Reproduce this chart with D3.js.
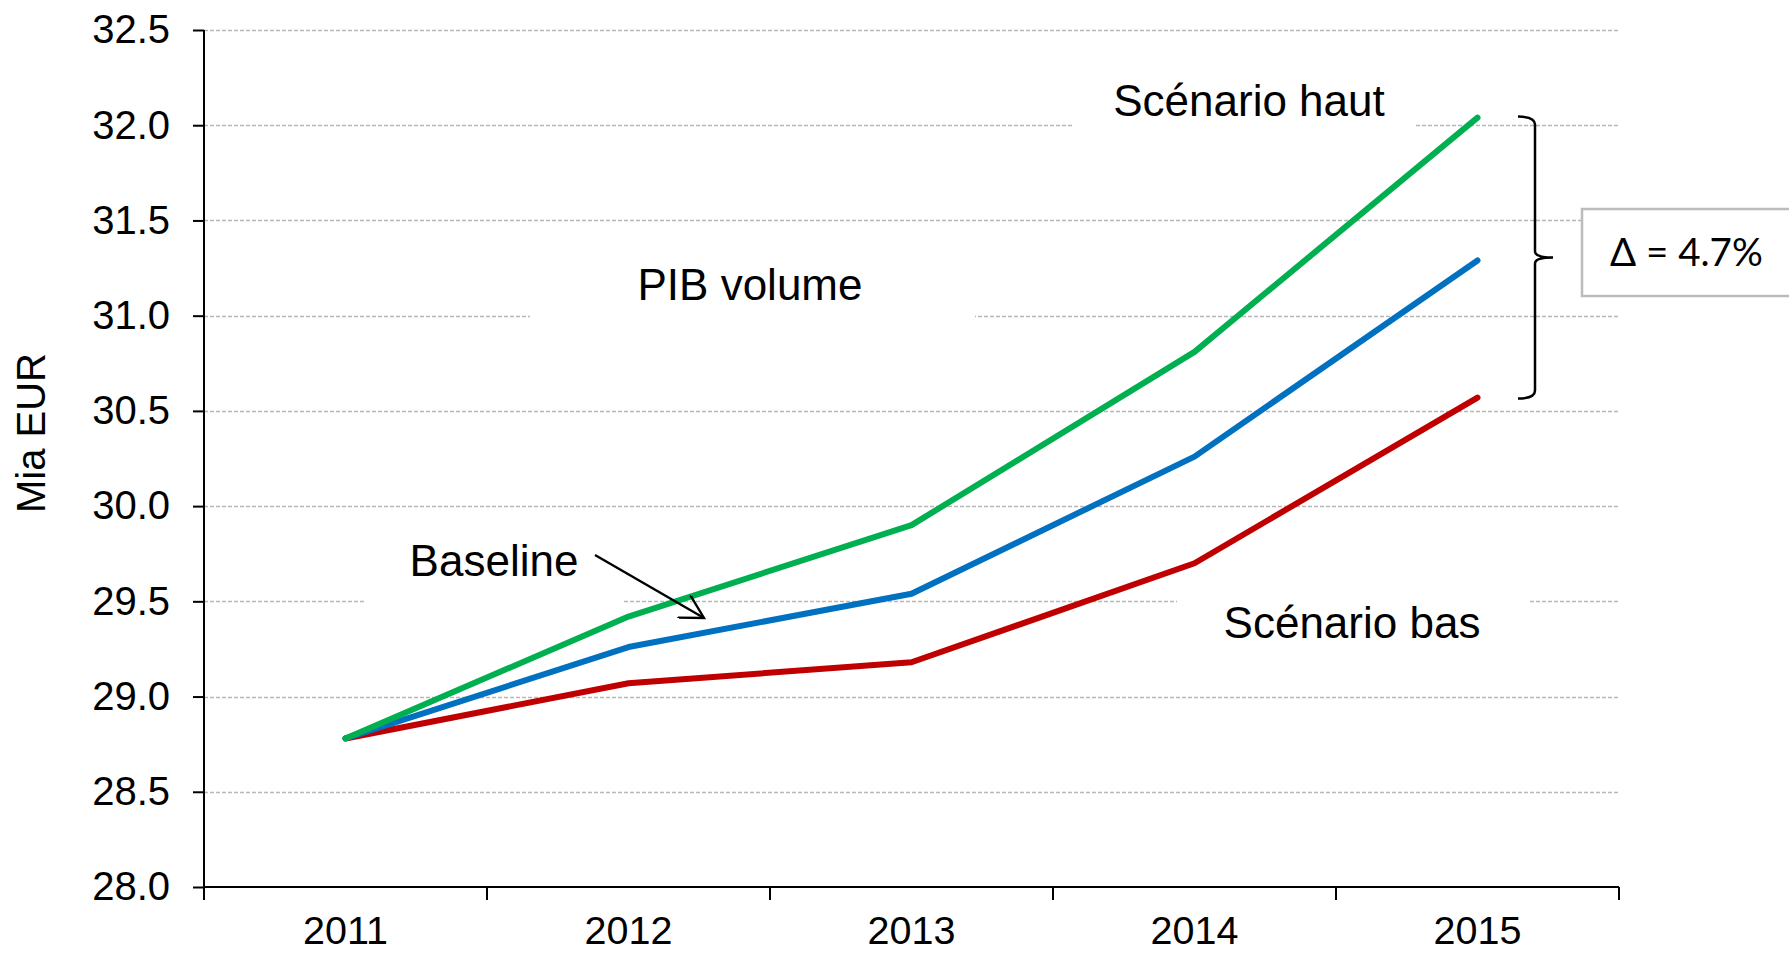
<!DOCTYPE html>
<html>
<head>
<meta charset="utf-8">
<script src="https://cdn.jsdelivr.net/npm/d3@7"></script>
<style>
  body { margin: 0; background: #fff; }
  svg { display: block; font-family: "Liberation Sans", Arial, sans-serif; }
  .axis path, .axis line { stroke: #000; stroke-width: 2; }
  .axis text { font-size: 40px; fill: #000; }
  .axis--x text { font-size: 39.5px; }
  .grid line { stroke: #b8b8b8; stroke-width: 1.3; stroke-dasharray: 4,2; }
  .series { fill: none; stroke-width: 6; stroke-linejoin: round; stroke-linecap: round; }
  .note { font-size: 44px; fill: #000; }
</style>
</head>
<body>
<svg id="pib_chart" width="1789" height="953"></svg>
<script>

// data (Mia EUR)
var years = ["2011", "2012", "2013", "2014", "2015"];
var scen_haut = [28.78, 29.42, 29.90, 30.81, 32.04];
var baseline  = [28.78, 29.26, 29.54, 30.26, 31.29];
var scen_bas  = [28.78, 29.07, 29.18, 29.70, 30.57];
var y_ticks = [28.0, 28.5, 29.0, 29.5, 30.0, 30.5, 31.0, 31.5, 32.0, 32.5];
var delta_label = "\u0394 = 4.7%";

var series = [
  { name: "haut", values: scen_haut, color: "#00b050" },
  { name: "base", values: baseline,  color: "#0070c0" },
  { name: "bas",  values: scen_bas,  color: "#c00000" }
];

var svg = d3.select("#pib_chart");

// plot area
var pl_left = 204, pl_right = 1619, pl_top = 30, pl_bottom = 887;

var x = d3.scaleBand().domain(years).range([pl_left, pl_right]).padding(0);
var y = d3.scaleLinear().domain([28, 32.5]).range([pl_bottom, pl_top]);

function cx(d) { return x(d) + x.bandwidth() / 2; }

// gridlines
svg.append("g")
  .attr("class", "grid")
  .selectAll("line")
  .data(y_ticks.filter(function(d) { return d > 28; }))
  .enter().append("line")
  .attr("x1", pl_left).attr("x2", pl_right)
  .attr("y1", function(d) { return Math.round(y(d)) + 0.5; })
  .attr("y2", function(d) { return Math.round(y(d)) + 0.5; });

// white text boxes that hide the gridlines (Excel text boxes)
var notes = [
  { text: "PIB volume",     x: 750,  y: 300, box: [530, 255, 445, 70] },
  { text: "Sc\u00e9nario haut", x: 1249, y: 116, box: [1073, 62, 342, 70] },
  { text: "Baseline",       x: 494,  y: 576, box: [366, 525, 257, 83] },
  { text: "Sc\u00e9nario bas",  x: 1352, y: 638, box: [1177, 592, 351, 62] }
];

svg.append("g").selectAll("rect")
  .data(notes)
  .enter().append("rect")
  .attr("x", function(d) { return d.box[0]; })
  .attr("y", function(d) { return d.box[1]; })
  .attr("width", function(d) { return d.box[2]; })
  .attr("height", function(d) { return d.box[3]; })
  .attr("fill", "#fff");

// y axis
var yAxis = d3.axisLeft(y).tickValues(y_ticks).tickSize(11).tickPadding(23)
  .tickFormat(d3.format(".1f"));
svg.append("g")
  .attr("class", "axis axis--y")
  .attr("transform", "translate(" + pl_left + ",0)")
  .call(yAxis)
  .call(function(g) { g.select(".domain").attr("d", "M0," + pl_top + "V" + pl_bottom); });

// x axis : labels at category centres, tick marks between categories
var xAxis = d3.axisBottom(x).tickSize(0).tickPadding(29);
svg.append("g")
  .attr("class", "axis axis--x")
  .attr("transform", "translate(0," + pl_bottom + ")")
  .call(xAxis)
  .call(function(g) { g.select(".domain").attr("d", "M" + pl_left + ",0H" + pl_right); });

svg.append("g")
  .attr("class", "axis")
  .selectAll("line")
  .data(d3.range(years.length + 1))
  .enter().append("line")
  .attr("x1", function(i) { return pl_left + i * x.step(); })
  .attr("x2", function(i) { return pl_left + i * x.step(); })
  .attr("y1", pl_bottom).attr("y2", pl_bottom + 13);

// y title
svg.append("text")
  .attr("transform", "translate(45,433) rotate(-90)")
  .attr("text-anchor", "middle")
  .style("font-size", "40px")
  .text("Mia EUR");

// lines
var valueline = d3.line()
  .x(function(d, i) { return cx(years[i]); })
  .y(function(d) { return y(d); });

svg.append("g").selectAll("path")
  .data(series.slice().reverse())
  .enter().append("path")
  .attr("class", "series")
  .attr("stroke", function(d) { return d.color; })
  .attr("d", function(d) { return valueline(d.values); });

// notes text
svg.append("g").selectAll("text")
  .data(notes)
  .enter().append("text")
  .attr("class", "note")
  .attr("x", function(d) { return d.x; })
  .attr("y", function(d) { return d.y; })
  .attr("text-anchor", "middle")
  .text(function(d) { return d.text; });

// arrow from "Baseline"
svg.append("defs").append("marker")
  .attr("id", "open_arrow")
  .attr("viewBox", "0 0 20 20")
  .attr("refX", 18).attr("refY", 10)
  .attr("markerWidth", 26).attr("markerHeight", 26)
  .attr("markerUnits", "userSpaceOnUse")
  .attr("orient", "auto")
  .append("path")
  .attr("d", "M0,0L18,10L0,20")
  .attr("fill", "none").attr("stroke", "#000").attr("stroke-width", 1.8);

svg.append("line")
  .attr("x1", 595).attr("y1", 555)
  .attr("x2", 704).attr("y2", 618)
  .attr("stroke", "#000").attr("stroke-width", 2.4)
  .attr("marker-end", "url(#open_arrow)");

// bracket between high and low scenario in 2015
var last = years.length - 1;
var bTop = y(scen_haut[last]) - 1, bBot = y(scen_bas[last]) + 1;
var bx = 1535, mid = (bTop + bBot) / 2;
svg.append("path")
  .attr("d", "M1518," + bTop + "Q" + bx + "," + bTop + " " + bx + "," + (bTop + 8) +
       "V" + (mid - 6) + "Q" + bx + "," + mid + " 1553," + mid +
       "Q" + bx + "," + mid + " " + bx + "," + (mid + 6) +
       "V" + (bBot - 8) + "Q" + bx + "," + bBot + " 1518," + bBot)
  .attr("fill", "none").attr("stroke", "#000").attr("stroke-width", 2.5);

// delta box
svg.append("rect")
  .attr("x", 1582).attr("y", 209)
  .attr("width", 210).attr("height", 87)
  .attr("fill", "#fff").attr("stroke", "#bcbcbc").attr("stroke-width", 2.5);

svg.append("text")
  .attr("x", 1610).attr("y", 266)
  .style("font-family", "Lato, 'Open Sans', sans-serif")
  .style("font-size", "38.5px")
  .text(delta_label);

</script>
</body>
</html>
